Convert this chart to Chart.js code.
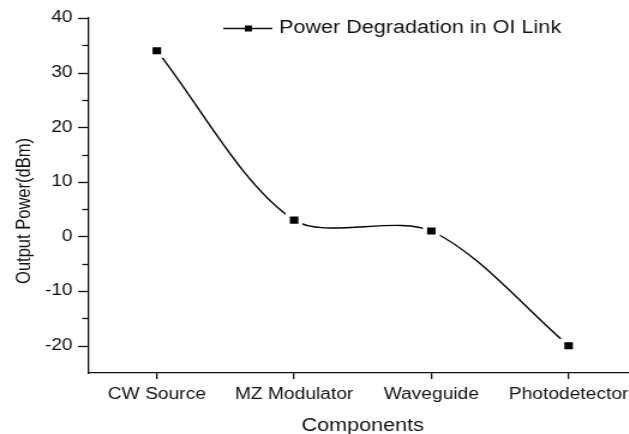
<!DOCTYPE html>
<html>
<head>
<meta charset="utf-8">
<script src="https://cdn.jsdelivr.net/npm/chart.js@4"></script>
<style>
  html, body { margin: 0; padding: 0; background: #fff; overflow: hidden; }
  #wrap { width: 629px; height: 434px; overflow: hidden; }
  /* the source picture is stretched sideways, so the canvas is too */
  #chart { display: block; transform: scaleX(1.2); transform-origin: 0 0; }
</style>
</head>
<body>
<div id="wrap"><canvas id="chart" width="542" height="437"></canvas></div>
<script>
const components = ['CW Source', 'MZ Modulator', 'Waveguide', 'Photodetector'];
const outputPower = [34, 3, 1, -20];
const seriesName = 'Power Degradation in OI Link';
const yMin = -25;
const yMax = 40;
const yStep = 5;

const FONT = '"Liberation Sans", Arial, sans-serif';
const INK = '#111';

// Origin-style extras: major/minor tick marks, rotated y title, legend inside plot
const originExtras = {
    id: 'originExtras',
    afterDraw(chart) {
        const ctx = chart.ctx;
        const y = chart.scales.y;
        ctx.save();
        ctx.strokeStyle = INK;
        ctx.lineWidth = 1.3;
        y.ticks.forEach(t => {
            if (t.value === yMin) return;
            const py = Math.round(y.getPixelForValue(t.value)) + 0.5;
            const len = t.value % 10 === 0 ? 8.5 : 5;
            ctx.beginPath();
            ctx.moveTo(y.right - len, py);
            ctx.lineTo(y.right, py);
            ctx.stroke();
        });

        // legend
        const ly = 28.5;
        ctx.lineWidth = 1.4;
        ctx.beginPath();
        ctx.moveTo(186, ly);
        ctx.lineTo(227, ly);
        ctx.stroke();
        ctx.fillStyle = '#000';
        ctx.fillRect(204, ly - 3, 6, 6);
        ctx.fillStyle = INK;
        ctx.font = '18px ' + FONT;
        ctx.textAlign = 'left';
        ctx.textBaseline = 'middle';
        ctx.fillText(seriesName, 232.5, ly);

        // y axis title
        ctx.font = '16.5px ' + FONT;
        ctx.translate(20.5, 211);
        ctx.rotate(-Math.PI / 2);
        ctx.textAlign = 'center';
        ctx.fillText('Output Power(dBm)', 0, 0);
        ctx.restore();
    }
};

new Chart(document.getElementById('chart'), {
    type: 'line',
    data: {
        labels: components,
        datasets: [{
            label: seriesName,
            data: outputPower,
            borderColor: '#000',
            borderWidth: 1.4,
            tension: 0.3,
            fill: false,
            pointStyle: 'rect',
            pointRadius: 7.5,
            pointBackgroundColor: '#000',
            pointBorderColor: '#fff',
            pointBorderWidth: 3.5
        }]
    },
    options: {
        responsive: false,
        animation: false,
        events: [],
        layout: { padding: { top: 18, right: 2.6, left: 0, bottom: 0 } },
        plugins: {
            legend: { display: false },
            tooltip: { enabled: false }
        },
        scales: {
            x: {
                offset: true,
                grid: {
                    display: true,
                    drawOnChartArea: false,
                    drawTicks: true,
                    tickLength: 6,
                    offset: false,
                    color: INK,
                    lineWidth: 1.3
                },
                border: { display: true, color: INK, width: 1.3 },
                ticks: {
                    color: INK,
                    padding: 6,
                    maxRotation: 0,
                    autoSkip: false,
                    font: { family: FONT, size: 16 }
                },
                title: {
                    display: true,
                    text: 'Components',
                    color: INK,
                    padding: { top: 0, bottom: 0 },
                    font: { family: FONT, size: 18 }
                },
                afterFit(scale) { scale.height = 64; }
            },
            y: {
                min: yMin,
                max: yMax,
                grid: { display: false },
                border: { display: true, color: INK, width: 1.3 },
                ticks: {
                    stepSize: yStep,
                    color: INK,
                    padding: 5,
                    font: { family: FONT, size: 16 },
                    callback: v => (v % 10 === 0 ? v : '')
                },
                afterFit(scale) { scale.width = 73.5; }
            }
        }
    },
    plugins: [originExtras]
});
</script>
</body>
</html>
